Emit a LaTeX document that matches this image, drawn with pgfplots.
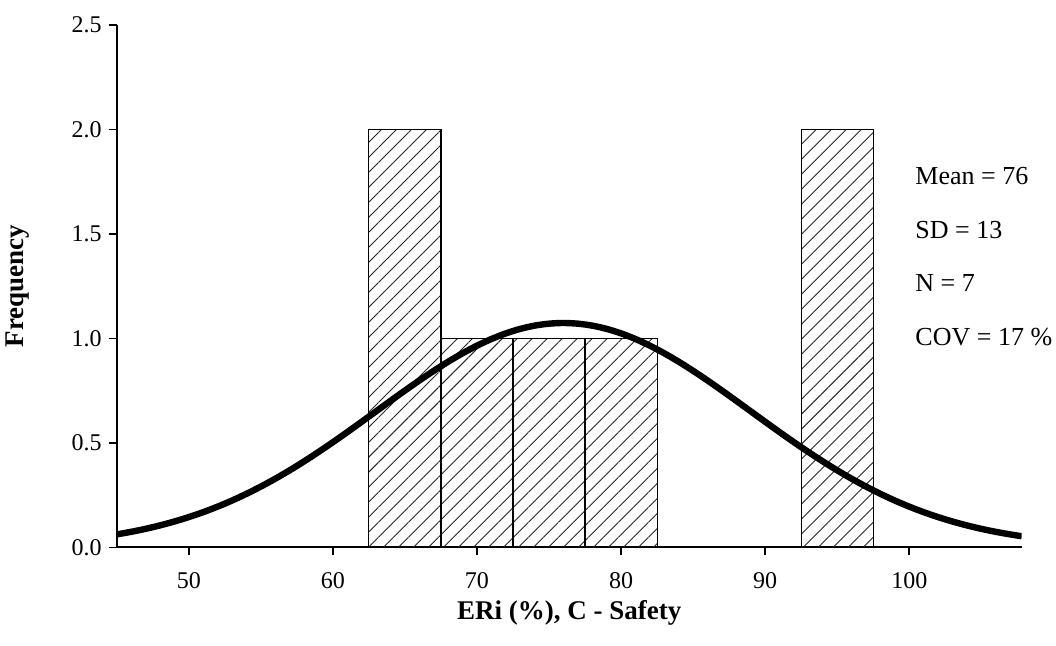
\documentclass[border=0pt]{standalone}
\usepackage{fontspec}
\setmainfont{Liberation Serif}
\usepackage{pgfplots}
\pgfplotsset{compat=1.18}
\usetikzlibrary{patterns.meta}

% fitted normal curve (mean 76, SD 13, scaled to N = 7 and bin width 5)
\pgfplotstableread{
x y
45 0.0626
46 0.0749
47 0.0892
48 0.1056
49 0.1243
50 0.1454
51 0.1690
52 0.1954
53 0.2246
54 0.2566
55 0.2914
56 0.3289
57 0.3691
58 0.4119
59 0.4568
60 0.5036
61 0.5520
62 0.6015
63 0.6515
64 0.7015
65 0.7509
66 0.7990
67 0.8452
68 0.8888
69 0.9291
70 0.9656
71 0.9975
72 1.0244
73 1.0459
74 1.0615
75 1.0709
76 1.0741
77 1.0709
78 1.0615
79 1.0459
80 1.0244
81 0.9975
82 0.9656
83 0.9291
84 0.8888
85 0.8452
86 0.7990
87 0.7509
88 0.7015
89 0.6515
90 0.6015
91 0.5520
92 0.5036
93 0.4568
94 0.4119
95 0.3691
96 0.3289
97 0.2914
98 0.2566
99 0.2246
100 0.1954
101 0.1690
102 0.1454
103 0.1243
104 0.1056
105 0.0892
106 0.0749
107 0.0626
107.8 0.0539
}\normalcurve

\begin{document}
\begin{tikzpicture}
\begin{axis}[
  at={(58.35pt,49.25pt)}, anchor=south west,
  scale only axis, width=452.5pt, height=261.25pt,
  xmin=45, xmax=107.8, ymin=0, ymax=2.5,
  clip mode=individual,
  axis lines=left, axis line style={-, line width=1pt},
  xtick={50,60,...,100}, ytick={0,0.5,1,1.5,2,2.5},
  tick align=outside, major tick length=4pt,
  tick style={line width=0.8pt, black},
  /pgf/number format/assume math mode=true,
  yticklabel style={/pgf/number format/fixed,
    /pgf/number format/fixed zerofill, /pgf/number format/precision=1},
  xticklabel style={yshift=-5pt},
  tick label style={font=\fontsize{12}{14}\selectfont},
  xlabel={ERi (\%), C - Safety}, ylabel={Frequency},
  label style={font=\fontsize{13.5}{15}\selectfont\bfseries},
  xlabel style={at={(axis description cs:0.5,-0.1245)}, anchor=center},
  ylabel style={at={(axis description cs:-0.1091,0.5)}, anchor=center},
]
% histogram bins
\addplot[ybar interval, draw=black, line width=0.6pt,
  pattern={Lines[angle=45, distance=5.3pt, line width=0.45pt]}, pattern color=black!85]
  coordinates {(62.5,2) (67.5,1) (72.5,1) (77.5,1) (82.5,1)};
\addplot[ybar interval, draw=black, line width=0.6pt,
  pattern={Lines[angle=45, distance=5.3pt, line width=0.45pt]}, pattern color=black!85]
  coordinates {(92.5,2) (97.5,2)};
% normal curve
\addplot[black, line width=3.2pt, smooth, no markers] table[x=x, y=y] {\normalcurve};
% summary statistics
\begin{scope}[every node/.style={anchor=west, font=\fontsize{13}{15}\selectfont, inner sep=0pt}]
\node at (axis cs:100.4,1.777) {Mean = 76};
\node at (axis cs:100.4,1.519) {SD = 13};
\node at (axis cs:100.4,1.266) {N = 7};
\node at (axis cs:100.4,1.007) {COV = 17 \%};
\end{scope}
\end{axis}
\pgfresetboundingbox
\path[use as bounding box] (0,0) rectangle (528pt,323pt);
\end{tikzpicture}
\end{document}
